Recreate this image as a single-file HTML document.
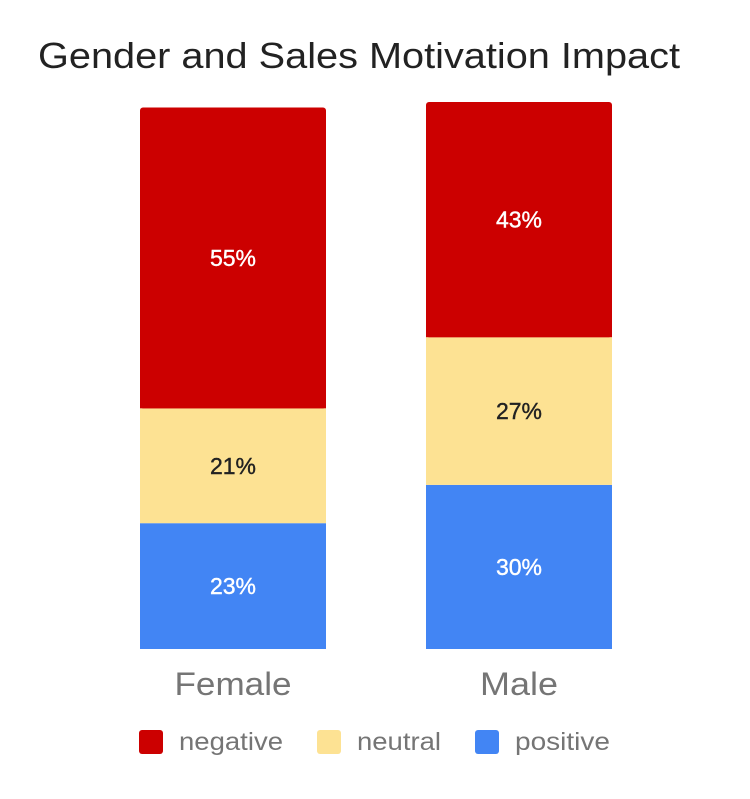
<!DOCTYPE html>
<html><head><meta charset="utf-8"><style>
body{margin:0;background:#fff;font-family:"Liberation Sans",Roboto,sans-serif}
svg text{font-family:"Liberation Sans",sans-serif}
</style></head><body>
<svg width="750" height="794">
<text x="38" y="68" font-size="36" fill="#222" textLength="642" lengthAdjust="spacingAndGlyphs">Gender and Sales Motivation Impact</text>
<g id="bars"></g>
<g id="legend"></g>
</svg>
<script>
const categories=["Female","Male"];
const seriesNames=["positive","neutral","negative"];
const positive=[23,30];
const neutral=[21,27];
const negative=[55,43];
const colors=["#4285f4","#fde293","#cc0000"];
const textColors=["#fff","#222","#fff"];
const catLabelW=[117,78];
const legendW=[95,84,104];
const baseY=649, pxPer=5.47, barW=186;
function xPos(i){return 140+i*286;}
function yLen(v){return v*pxPer;}
const NS="http://www.w3.org/2000/svg";
const g=document.getElementById('bars');
const series=[positive,neutral,negative];
categories.forEach((c,i)=>{
  let y=baseY;
  series.forEach((s,k)=>{
    const h=yLen(s[i]);
    const r=document.createElementNS(NS,'rect');
    r.setAttribute('x',xPos(i));r.setAttribute('y',y-h);
    r.setAttribute('width',barW);r.setAttribute('height',h);
    r.setAttribute('fill',colors[k]);
    if(k===2){r.setAttribute('rx',3);}
    
    
    g.appendChild(r);
    if(k===2){const f=document.createElementNS(NS,'rect');f.setAttribute('x',xPos(i));f.setAttribute('y',y-h+4);f.setAttribute('width',barW);f.setAttribute('height',h-4);f.setAttribute('fill',colors[k]);
      
      
      g.appendChild(f);}
    const t=document.createElementNS(NS,'text');
    t.setAttribute('x',xPos(i)+barW/2);t.setAttribute('y',y-h/2+8);
    t.setAttribute('text-anchor','middle');t.setAttribute('font-size','23');
    t.setAttribute('fill',textColors[k]);
    t.setAttribute('stroke',textColors[k]);t.setAttribute('stroke-width','0.4');
    t.textContent=s[i]+'%';
    
    
    g.appendChild(t);
    y-=h;
  });
  const l=document.createElementNS(NS,'text');
  l.setAttribute('x',xPos(i)+barW/2);l.setAttribute('y',695);
  l.setAttribute('text-anchor','middle');l.setAttribute('font-size','32');l.setAttribute('fill','#757575');
  l.setAttribute('textLength',catLabelW[i]);l.setAttribute('lengthAdjust','spacingAndGlyphs');
  l.textContent=c;
  
  
  g.appendChild(l);
});
const lg=document.getElementById('legend');
const legendX=[139,317,475];
[2,1,0].forEach((k,j)=>{
  const r=document.createElementNS(NS,'rect');
  r.setAttribute('x',legendX[j]);r.setAttribute('y',730);r.setAttribute('width',24);r.setAttribute('height',24);r.setAttribute('rx',3);r.setAttribute('fill',colors[k]);
  
  
  lg.appendChild(r);
  const t=document.createElementNS(NS,'text');
  t.setAttribute('x',legendX[j]+40);t.setAttribute('y',750);t.setAttribute('font-size','25');t.setAttribute('fill','#757575');
  t.setAttribute('textLength',legendW[k]);t.setAttribute('lengthAdjust','spacingAndGlyphs');
  t.textContent=seriesNames[k];
  
  
  lg.appendChild(t);
});
</script>
</body></html>
